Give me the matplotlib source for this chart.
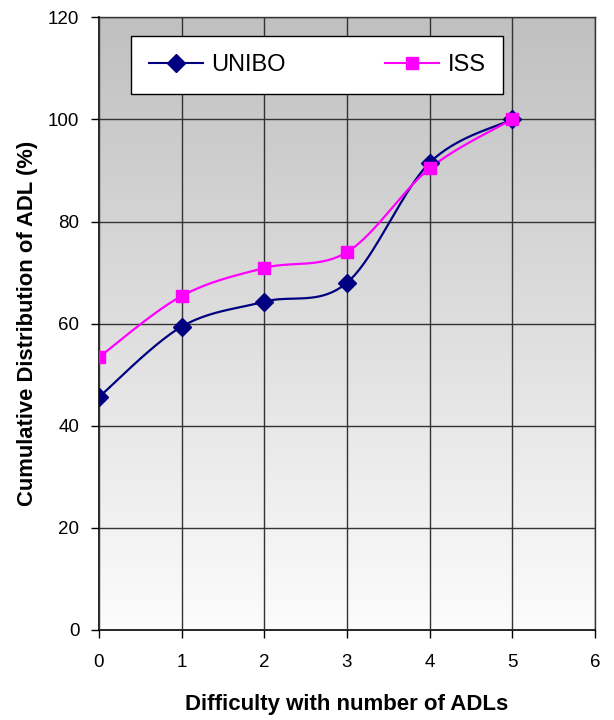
import matplotlib.pyplot as plt
import numpy as np

plt.rcParams['font.family'] = ['Liberation Sans', 'DejaVu Sans']

difficulty = [0, 1, 2, 3, 4, 5]
unibo = [45.6, 59.4, 64.3, 68.0, 91.5, 100.0]
iss = [53.4, 65.4, 70.9, 74.0, 90.4, 100.0]


def smooth(xs, ys, n=40):
    # bezier smoothing through the points, like a spreadsheet "smoothed line"
    p = np.column_stack([xs, ys]).astype(float)
    p = np.vstack([p[0], p, p[-1]])
    out = []
    t = np.linspace(0, 1, n)[:, None]
    for i in range(1, len(p) - 2):
        a, b = p[i], p[i + 1]
        c1 = a + (p[i + 1] - p[i - 1]) / 6
        c2 = b - (p[i + 2] - p[i]) / 6
        seg = (1 - t) ** 3 * a + 3 * (1 - t) ** 2 * t * c1 + 3 * (1 - t) * t ** 2 * c2 + t ** 3 * b
        out.append(seg)
    out = np.vstack(out)
    return out[:, 0], out[:, 1]


fig = plt.figure(figsize=(6.14, 7.2), dpi=100)
ax = fig.add_axes([0.161, 0.125, 0.808, 0.851])

# gray-to-white gradient behind the plot
grad = np.linspace(1.0, 0.0, 256)[:, None]
ax.imshow(grad, extent=[0, 1, 0, 1], transform=ax.transAxes, aspect='auto',
          cmap=plt.matplotlib.colors.LinearSegmentedColormap.from_list('bg', ['#fcfcfc', '#c0c0c0']),
          zorder=0)

ax.set_xlim(0, 6)
ax.set_ylim(0, 120)
ax.set_xticks(range(0, 7))
ax.set_yticks(range(0, 121, 20))
ax.grid(True, color='#333333', linewidth=1.0, zorder=1)
ax.set_axisbelow(False)

sx, sy = smooth(difficulty, unibo)
ax.plot(sx, sy, color='#000080', linewidth=1.6, zorder=3)
ax.plot(difficulty, unibo, 'D', color='#000080', markersize=9, zorder=4)
sx, sy = smooth(difficulty, iss)
ax.plot(sx, sy, color='#ff00ff', linewidth=1.6, zorder=3)
ax.plot(difficulty, iss, 's', color='#ff00ff', markersize=8, zorder=4)

# legend entries with line + marker
ax.plot([], [], color='#000080', marker='D', markersize=9, linewidth=1.5, label='UNIBO')
ax.plot([], [], color='#ff00ff', marker='s', markersize=8, linewidth=1.5, label='ISS')
handles, labels = ax.get_legend_handles_labels()
leg = ax.legend(handles[-2:], labels[-2:], ncol=2, loc='center',
                bbox_to_anchor=(0.44, 0.922), fontsize=17, fancybox=False,
                framealpha=1, edgecolor='black', borderpad=0.75,
                handlelength=2.3, columnspacing=4.2, handletextpad=0.35)
leg.get_frame().set_linewidth(1.0)

for side in ['left', 'bottom']:
    ax.spines[side].set_color('black')
    ax.spines[side].set_linewidth(1.2)
for side in ['top', 'right']:
    ax.spines[side].set_color('#333333')
    ax.spines[side].set_linewidth(1.0)

ax.tick_params(axis='both', direction='out', length=6, width=1, labelsize=13.5, pad=8)
ax.tick_params(axis='x', pad=11)
ax.set_xlabel('Difficulty with number of ADLs', fontsize=16, fontweight='bold', labelpad=17)
ax.set_ylabel('Cumulative Distribution of ADL (%)', fontsize=15.8, fontweight='bold', labelpad=7)

fig.savefig('out.png', dpi=100)
